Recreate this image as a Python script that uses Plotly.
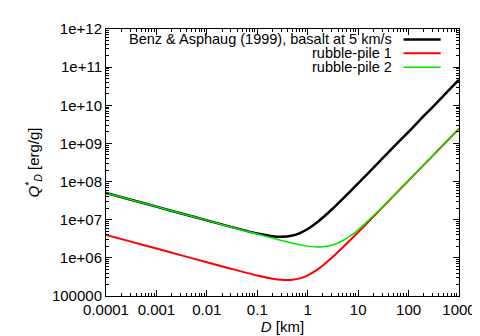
import plotly.graph_objects as go

# diameter D [km]
D = [0.0001, 0.0003, 0.001, 0.003, 0.01, 0.03, 0.1, 0.2, 0.3, 0.5, 0.7, 1, 1.5, 2, 3,
     5, 7, 10, 20, 30, 50, 100, 200, 300, 500, 1000]

# Q*_D [erg/g]
basalt = [5.0e7, 3.4e7, 2.2e7, 1.48e7, 9.6e6, 6.5e6, 4.36e6, 3.71e6, 3.57e6, 3.87e6, 4.47e6,
          5.7e6, 8.3e6, 1.14e7, 1.85e7, 3.57e7, 5.57e7, 8.97e7, 2.29e8, 3.97e8, 7.96e8, 2.02e9,
          5.24e9, 9.0e9, 1.81e10, 4.68e10]
rubble1 = [4.0e6, 2.7e6, 1.76e6, 1.18e6, 7.7e5, 5.2e5, 3.43e5, 2.84e5, 2.66e5, 2.67e5, 2.9e5,
           3.48e5, 4.78e5, 6.31e5, 1.0e6, 1.9e6, 2.93e6, 4.68e6, 1.2e7, 2.07e7, 4.16e7, 1.06e8,
           2.74e8, 4.71e8, 9.46e8, 2.44e9]
rubble2 = [5.0e7, 3.4e7, 2.2e7, 1.48e7, 9.6e6, 6.47e6, 4.2e6, 3.29e6, 2.86e6, 2.43e6, 2.2e6,
           2.03e6, 1.93e6, 1.95e6, 2.13e6, 2.85e6, 3.77e6, 5.42e6, 1.26e7, 2.13e7, 4.2e7, 1.064e8,
           2.74e8, 4.71e8, 9.46e8, 2.44e9]

names = ["Benz &amp; Asphaug (1999), basalt at 5 km/s", "rubble-pile 1", "rubble-pile 2"]
colors = ["#000000", "#ff0000", "#00e600"]
widths = [2.5, 2, 1.5]

xticks = [0.0001, 0.001, 0.01, 0.1, 1, 10, 100, 1000]
xticktext = ["0.0001", "0.001", "0.01", "0.1", "1", "10", "100", "1000"]
yticks = [1e5, 1e6, 1e7, 1e8, 1e9, 1e10, 1e11, 1e12]
yticktext = ["100000", "1e+06", "1e+07", "1e+08", "1e+09", "1e+10", "1e+11", "1e+12"]

font = "Liberation Sans, Arial, sans-serif"
fsize = 15

fig = go.Figure()
for ys, name, c, w in zip([basalt, rubble1, rubble2], names, colors, widths):
    fig.add_trace(go.Scatter(x=D, y=ys, name=name, mode="lines",
                             line=dict(color=c, width=w, shape="spline", smoothing=0.6)))

# gnuplot-style key: text right-aligned, sample line to the right
key_y = [0.961, 0.909, 0.857]
for name, c, w, ky in zip(names, colors, widths, key_y):
    fig.add_annotation(x=0.815, y=ky, xref="paper", yref="paper", text=name,
                       showarrow=False, xanchor="right", yanchor="middle",
                       font=dict(size=14.5, color="black", family=font))
    fig.add_shape(type="line", xref="paper", yref="paper", x0=0.843, x1=0.948,
                  y0=ky, y1=ky, line=dict(color=c, width=w))

axis_common = dict(
    type="log", showgrid=False, zeroline=False, mirror="allticks",
    showline=True, linecolor="black", linewidth=1,
    ticks="inside", ticklen=6, tickcolor="black", tickwidth=1,
    tickfont=dict(size=fsize, color="black", family=font),
    minor=dict(ticks="inside", ticklen=3, tickcolor="black", dtick="D1", showgrid=False),
)

fig.update_xaxes(range=[-4, 3], tickvals=xticks, ticktext=xticktext,
                 title=dict(text="<i>D</i> [km]", font=dict(size=fsize, color="black", family=font),
                            standoff=3),
                 **axis_common)
fig.update_yaxes(range=[5, 12], tickvals=yticks, ticktext=yticktext,
                 title=dict(text="<i>Q</i><sup>*</sup><sub><i>D</i></sub> [erg/g]",
                            font=dict(size=fsize, color="black", family=font), standoff=8),
                 **axis_common)

fig.update_layout(
    width=480, height=336,
    margin=dict(l=98, r=27, t=18, b=38),
    plot_bgcolor="white", paper_bgcolor="white",
    showlegend=False,
    font=dict(family=font, size=fsize, color="black"),
)

fig.write_html("out.html")
